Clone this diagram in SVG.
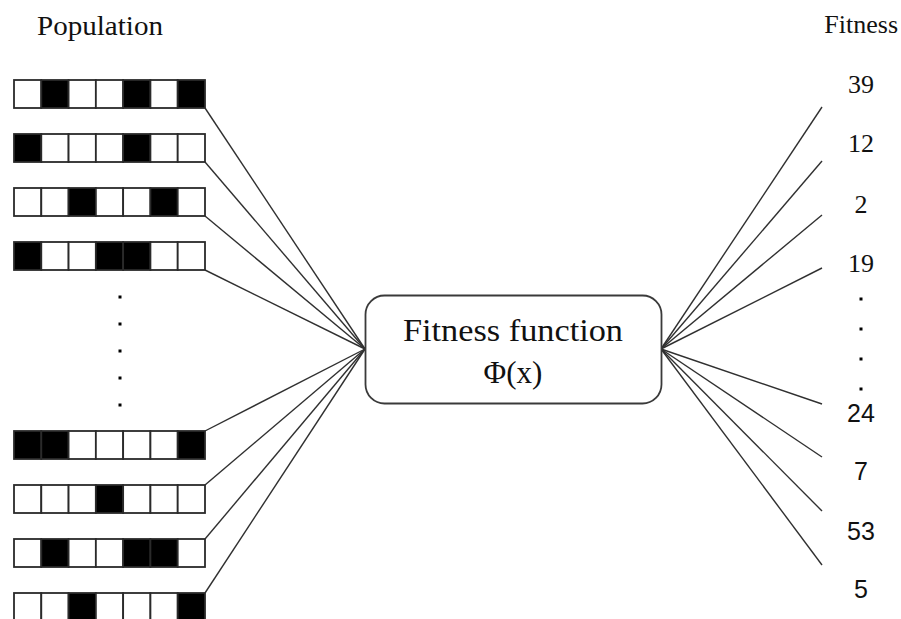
<svg xmlns="http://www.w3.org/2000/svg" width="901" height="619" viewBox="0 0 901 619">
  <style>
    .c0 { fill: #ffffff; stroke: #2a2a2a; stroke-width: 1.8; }
    .c1 { fill: #000000; stroke: #2a2a2a; stroke-width: 1.8; }
    .link { stroke: #303030; stroke-width: 1.4; fill: none; }
    .serif { font-family: "Liberation Serif", "Times New Roman", serif; fill: #111; }
    .sans { font-family: "Liberation Sans", Arial, sans-serif; fill: #111; }
    .dot { fill: #000; }
  </style>
  <defs>
    <!-- one chromosome cell -->
    <rect id="cell" width="27.29" height="28"/>
  </defs>
  <rect width="901" height="619" fill="#ffffff"/>

  <text class="serif" x="37" y="35" font-size="27" textLength="126" lengthAdjust="spacingAndGlyphs">Population</text>
  <text class="serif" x="898" y="33" font-size="26" text-anchor="end">Fitness</text>

  <!-- connectors -->
  <g id="connectors">
    <line class="link" x1="205" y1="108" x2="365" y2="349"/>
    <line class="link" x1="205" y1="162" x2="365" y2="349"/>
    <line class="link" x1="205" y1="216" x2="365" y2="349"/>
    <line class="link" x1="205" y1="270" x2="365" y2="349"/>
    <line class="link" x1="205" y1="431" x2="365" y2="349"/>
    <line class="link" x1="205" y1="485" x2="365" y2="349"/>
    <line class="link" x1="205" y1="539" x2="365" y2="349"/>
    <line class="link" x1="205" y1="593" x2="365" y2="349"/>
    <line class="link" x1="661" y1="349" x2="822" y2="107"/>
    <line class="link" x1="661" y1="349" x2="822" y2="161"/>
    <line class="link" x1="661" y1="349" x2="822" y2="215"/>
    <line class="link" x1="661" y1="349" x2="822" y2="268"/>
    <line class="link" x1="661" y1="349" x2="822" y2="404"/>
    <line class="link" x1="661" y1="349" x2="822" y2="457"/>
    <line class="link" x1="661" y1="349" x2="822" y2="511"/>
    <line class="link" x1="661" y1="349" x2="822" y2="565"/>
  </g>

  <!-- population strings -->
  <g id="row1" transform="translate(14,80)">
    <use href="#cell" class="c0" x="0"/><use href="#cell" class="c1" x="27.29"/><use href="#cell" class="c0" x="54.57"/><use href="#cell" class="c0" x="81.86"/><use href="#cell" class="c1" x="109.14"/><use href="#cell" class="c0" x="136.43"/><use href="#cell" class="c1" x="163.71"/>
  </g>
  <g id="row2" transform="translate(14,134)">
    <use href="#cell" class="c1" x="0"/><use href="#cell" class="c0" x="27.29"/><use href="#cell" class="c0" x="54.57"/><use href="#cell" class="c0" x="81.86"/><use href="#cell" class="c1" x="109.14"/><use href="#cell" class="c0" x="136.43"/><use href="#cell" class="c0" x="163.71"/>
  </g>
  <g id="row3" transform="translate(14,188)">
    <use href="#cell" class="c0" x="0"/><use href="#cell" class="c0" x="27.29"/><use href="#cell" class="c1" x="54.57"/><use href="#cell" class="c0" x="81.86"/><use href="#cell" class="c0" x="109.14"/><use href="#cell" class="c1" x="136.43"/><use href="#cell" class="c0" x="163.71"/>
  </g>
  <g id="row4" transform="translate(14,242)">
    <use href="#cell" class="c1" x="0"/><use href="#cell" class="c0" x="27.29"/><use href="#cell" class="c0" x="54.57"/><use href="#cell" class="c1" x="81.86"/><use href="#cell" class="c1" x="109.14"/><use href="#cell" class="c0" x="136.43"/><use href="#cell" class="c0" x="163.71"/>
  </g>
  <g id="ellipsis-left">
    <rect class="dot" x="118.5" y="295.5" width="3" height="3"/>
    <rect class="dot" x="118.5" y="322.5" width="3" height="3"/>
    <rect class="dot" x="118.5" y="349.5" width="3" height="3"/>
    <rect class="dot" x="118.5" y="376.5" width="3" height="3"/>
    <rect class="dot" x="118.5" y="403.5" width="3" height="3"/>
  </g>
  <g id="row5" transform="translate(14,431)">
    <use href="#cell" class="c1" x="0"/><use href="#cell" class="c1" x="27.29"/><use href="#cell" class="c0" x="54.57"/><use href="#cell" class="c0" x="81.86"/><use href="#cell" class="c0" x="109.14"/><use href="#cell" class="c0" x="136.43"/><use href="#cell" class="c1" x="163.71"/>
  </g>
  <g id="row6" transform="translate(14,485)">
    <use href="#cell" class="c0" x="0"/><use href="#cell" class="c0" x="27.29"/><use href="#cell" class="c0" x="54.57"/><use href="#cell" class="c1" x="81.86"/><use href="#cell" class="c0" x="109.14"/><use href="#cell" class="c0" x="136.43"/><use href="#cell" class="c0" x="163.71"/>
  </g>
  <g id="row7" transform="translate(14,539)">
    <use href="#cell" class="c0" x="0"/><use href="#cell" class="c1" x="27.29"/><use href="#cell" class="c0" x="54.57"/><use href="#cell" class="c0" x="81.86"/><use href="#cell" class="c1" x="109.14"/><use href="#cell" class="c1" x="136.43"/><use href="#cell" class="c0" x="163.71"/>
  </g>
  <g id="row8" transform="translate(14,593)">
    <use href="#cell" class="c0" x="0"/><use href="#cell" class="c0" x="27.29"/><use href="#cell" class="c1" x="54.57"/><use href="#cell" class="c0" x="81.86"/><use href="#cell" class="c0" x="109.14"/><use href="#cell" class="c0" x="136.43"/><use href="#cell" class="c1" x="163.71"/>
  </g>

  <!-- evaluation box -->
  <g id="fitness-function">
    <rect x="365.5" y="295.5" width="296" height="108" rx="19" ry="19" fill="#ffffff" stroke="#3a3a3a" stroke-width="1.8"/>
    <text class="serif" x="403" y="341" font-size="32" textLength="220" lengthAdjust="spacingAndGlyphs">Fitness function</text>
    <text class="serif" x="513" y="383" font-size="31" text-anchor="middle">Φ(x)</text>
  </g>

  <!-- fitness values -->
  <g id="fitness-values" text-anchor="middle" font-size="26">
    <text class="serif" x="861" y="93">39</text>
    <text class="serif" x="861" y="152">12</text>
    <text class="serif" x="861" y="213">2</text>
    <text class="serif" x="861" y="272">19</text>
    <text class="sans" x="861" y="422" font-size="25">24</text>
    <text class="sans" x="861" y="480" font-size="25">7</text>
    <text class="sans" x="861" y="540" font-size="25">53</text>
    <text class="sans" x="861" y="598" font-size="25">5</text>
  </g>
  <g id="ellipsis-right">
    <rect class="dot" x="859.5" y="297.5" width="3" height="3"/>
    <rect class="dot" x="859.5" y="327.5" width="3" height="3"/>
    <rect class="dot" x="859.5" y="357.5" width="3" height="3"/>
    <rect class="dot" x="859.5" y="387.5" width="3" height="3"/>
  </g>
</svg>
